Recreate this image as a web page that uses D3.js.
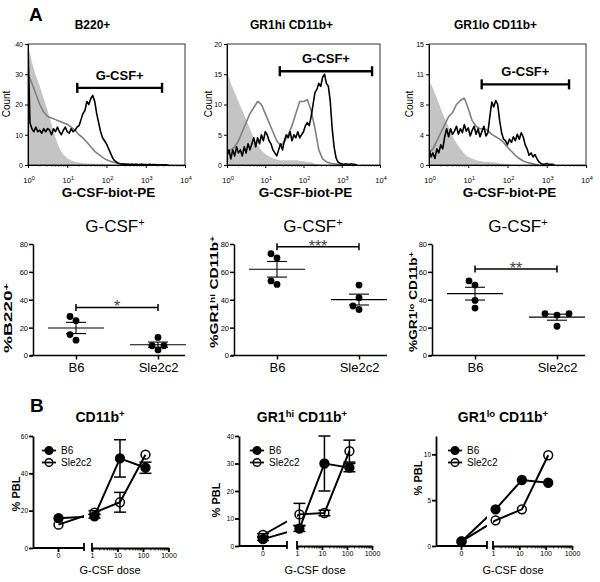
<!DOCTYPE html>
<html>
<head>
<meta charset="utf-8">
<script src="https://cdn.jsdelivr.net/npm/d3@7/dist/d3.min.js"></script>
<style>
html,body{margin:0;padding:0;background:#fff;}
svg{display:block;}
text{font-family:"Liberation Sans",Arial,Helvetica,sans-serif;fill:#000;}
</style>
</head>
<body>
<script>
// ================= DATA =================
// ---- Panel A, top row: histograms (count per bin on a log10 grid) ----
const histTitles = ["B220+", "GR1hi CD11b+", "GR1lo CD11b+"];
const histAxisTitle = "G-CSF-biot-PE";
const histYLabel = "Count";
const histYMax = [40, 20, 15];
const histYTicks = [[0, 10, 20, 30, 40], [0, 5, 10, 15, 20], [0, 3.75, 7.5, 11.25, 15]];
const histYTickLabels = [["0", "10", "20", "30", "40"], ["0", "5", "10", "15", "20"], ["0", "4", "8", "11", "15"]];
const histXTicks = [1, 10, 100, 1000, 10000];
const histXTickExp = ["0", "1", "2", "3", "4"];
const gateLabel = "G-CSF+";
const gateLow = [18, 24, 22];
const gateHigh = [2600, 6200, 3700];
const gateCount = [25.5, 15.5, 10];
const binCoarse = 0.1;   // decades per bin (isotype + gray curves)
const binFine = 0.05;    // decades per bin (black curves)

const b220Isotype = [40, 34, 29.5, 26, 22, 18, 13.5, 9, 5.5, 3.5, 2.2, 1.5, 1.1, 0.8, 0.6, 0.5, 0.4, 0.4, 0.3, 0.3, 0.2, 0.2, 0.1, 0];
const b220Gray = [30, 27, 23.5, 20, 17.5, 16, 15.5, 15, 14.5, 14, 13.5, 12.5, 11.5, 10, 9, 7.5, 6, 4.5, 3.5, 2.5, 1.7, 1.2, 0.8, 0.5, 0.4, 0.3, 0.3, 0.2, 0.2, 0.2, 0.2, 0.1, 0.2, 0.1, 0.1, 0.1, 0];
const b220Black = [40, 14, 12, 11, 12.5, 11, 11.5, 10.5, 12, 11, 12, 11.5, 10, 12, 11, 12.5, 11, 10, 11.5, 12.5, 11, 10.5, 12, 11, 11.5, 12.5, 13, 15, 17, 18, 21, 20, 22, 23, 21, 17, 14, 11, 9, 8, 7, 5.5, 4, 2.5, 1.5, 1, 0.6, 0.4, 0.3, 0.3, 0.2, 0.2, 0.1, 0.2, 0.1, 0.2, 0.1, 0.1, 0.2, 0.1, 0.1, 0.1, 0.2, 0.1, 0.1, 0.1, 0.1, 0.1, 0.1, 0.1, 0.1, 0];

const gr1hiIsotype = [15.5, 13.5, 12, 10.5, 9, 7.5, 6, 4.5, 3.3, 2.4, 1.8, 1.4, 1.1, 0.9, 0.8, 0.8, 0.8, 0.8, 0.8, 0.7, 0.6, 0.5, 0.4, 0.2, 0.1, 0];
const gr1hiGray = [2, 2.5, 3, 4, 5.5, 7, 8.5, 9.5, 10.5, 10, 8.5, 7, 5.5, 4, 3.2, 3.8, 5, 6.5, 8.5, 10.5, 10.5, 10.8, 9, 6, 2.5, 1, 0.5, 0.3, 0.2, 0.1, 0];
const gr1hiBlack = [1.5, 2.5, 1, 2.5, 1.5, 3, 2, 2.5, 1.5, 3, 2, 3.5, 2.5, 3.5, 4.5, 3, 4.5, 3.5, 5, 4, 5.5, 5, 4, 3.5, 2.5, 2, 1.5, 2.5, 3.5, 2.5, 4, 5, 4.5, 5.5, 4, 5, 4.5, 5.5, 4.5, 5, 5.5, 6.5, 7, 6.5, 8, 10, 12, 12.5, 13.5, 13, 14.5, 15, 13.5, 13, 10.5, 6, 3, 1.2, 0.5, 0.3, 0.2, 0.1, 0.2, 0.1, 0.1, 0.2, 0.1, 0.1, 0];

const gr1loIsotype = [10.5, 9.5, 8.3, 7, 5.8, 4.7, 3.6, 2.7, 2, 1.4, 1, 0.8, 0.6, 0.5, 0.4, 0.4, 0.3, 0.3, 0.2, 0.2, 0.1, 0];
const gr1loGray = [1.5, 2, 3, 4, 5, 6, 6.5, 7.5, 8, 8.3, 7, 5.5, 4.8, 4.5, 4.5, 4.3, 3.8, 3.5, 3.2, 2.8, 2.2, 1.7, 1.2, 0.8, 0.5, 0.3, 0.2, 0.1, 0];
const gr1loBlack = [2, 1, 1.5, 0.8, 2, 1.5, 2.5, 2, 3.5, 4.5, 3.5, 4.5, 3.8, 4.2, 4.8, 3.8, 4.5, 4, 5, 4.2, 4.6, 3.6, 4.3, 4.8, 3.8, 4.5, 3.5, 4.2, 4.8, 3.6, 4, 6, 7.8, 7.2, 8, 7.5, 5.5, 4, 3.2, 3, 2.5, 3.2, 2.8, 3.5, 3, 3.8, 3.2, 4, 3.5, 2.5, 2, 1.2, 1.5, 1, 1.3, 0.8, 0.4, 0.2, 0.1, 0.1, 0.2, 0.1, 0.1, 0.1, 0];

// ---- Panel A, middle row: % G-CSF+ per mouse ----
const scatterGroups = ["B6", "Sle2c2"];
const scatterTitle = ["G-CSF", "^+"];
const scatterYTicks = [0, 20, 40, 60, 80];
const b220B6 = [28, 25, 15, 11];
const b220Sle = [13, 7, 4, 7];
const gr1hiB6 = [73, 70, 53.5, 51];
const gr1hiSle = [50.5, 41.5, 35.5, 33];
const gr1loB6 = [53.5, 50.5, 39.5, 34];
const gr1loSle = [30, 29, 30, 21];
const sigLevel = [34.5, 78, 62];
const sigStars = ["*", "***", "**"];
const scatterYLabels = [["%B220", "^+"], ["%GR1", "^hi", " CD11b", "^+"], ["%GR1", "^lo", " CD11b", "^+"]];

// ---- Panel B: % PBL vs G-CSF dose ----
const doseTicks = [1, 10, 100, 1000];
const doses = [0, 1.25, 12.5, 125];
const lineTitles = [["CD11b", "^+"], ["GR1", "^hi", " CD11b", "^+"], ["GR1", "^lo", " CD11b", "^+"]];
const lineYMax = [60, 40, 12];
const lineYTicks = [[0, 20, 40, 60], [0, 10, 20, 30, 40], [0, 5, 10]];
const legendNames = ["B6", "Sle2c2"];
const cd11bB6 = [16, 17, 48, 43];
const cd11bB6Err = [0, 1, 10, 3];
const cd11bSle = [12.5, 19, 24.5, 50];
const cd11bSleErr = [0, 1, 5.3, 0];
const gr1hiPblB6 = [2.5, 6.3, 30, 28.5];
const gr1hiPblB6Err = [0.5, 1, 10, 1.5];
const gr1hiPblSle = [4, 11.5, 12, 34.5];
const gr1hiPblSleErr = [0.5, 4, 1, 4];
const gr1loPblB6 = [0.5, 4, 7.2, 6.9];
const gr1loPblB6Err = [0, 0, 0, 0];
const gr1loPblSle = [0.5, 2.8, 4, 9.9];
const gr1loPblSleErr = [0, 0, 0, 0];

// ================= DRAWING =================
const FONT = '"Liberation Sans", Arial, Helvetica, sans-serif';
const svg = d3.select("body").append("svg").attr("width", 600).attr("height", 582);
const defs = svg.append("defs");

function rich(sel, parts, supSize) {
  parts.forEach(p => {
    if (p.startsWith("^")) {
      sel.append("tspan").attr("baseline-shift", "super").attr("font-size", supSize).text(p.slice(1));
    } else {
      sel.append("tspan").text(p);
    }
  });
  return sel;
}
function styleAxis(sel, fs, sw) {
  sel.attr("font-family", FONT).attr("font-size", fs);
  sel.selectAll("path,line").attr("stroke", "#000").attr("stroke-width", sw);
  sel.selectAll("text").attr("fill", "#000");
}

// ---------- Panel letters ----------
svg.append("text").attr("x", 29).attr("y", 21).attr("font-size", 19).attr("font-weight", "bold").text("A");
svg.append("text").attr("x", 30).attr("y", 412).attr("font-size", 19).attr("font-weight", "bold").text("B");

// ---------- Top row: histograms ----------
const histLayout = [
  { x0: 28, x1: 185, countX: 10 },
  { x0: 227, x1: 380, countX: 212 },
  { x0: 429, x1: 586, countX: 413 }
];
const HB = 165, HT = 44;
const histIso = [b220Isotype, gr1hiIsotype, gr1loIsotype];
const histGray = [b220Gray, gr1hiGray, gr1loGray];
const histBlack = [b220Black, gr1hiBlack, gr1loBlack];

histLayout.forEach((L, i) => {
  const g = svg.append("g");
  const xs = d3.scaleLog().domain([1, 1e4]).range([L.x0, L.x1]);
  const ys = d3.scaleLinear().domain([0, histYMax[i]]).range([HB, HT]);
  const cid = "hclip" + i;
  defs.append("clipPath").attr("id", cid).append("rect")
    .attr("x", L.x0).attr("y", HT - 3).attr("width", L.x1 - L.x0).attr("height", HB - HT + 3);
  const pc = g.append("g").attr("clip-path", `url(#${cid})`);

  const areaC = d3.area().x((d, j) => xs(Math.pow(10, j * binCoarse))).y0(ys(0)).y1(d => ys(d));
  const lineC = d3.line().x((d, j) => xs(Math.pow(10, j * binCoarse))).y(d => ys(d));
  const lineF = d3.line().x((d, j) => xs(Math.pow(10, j * binFine))).y(d => ys(d));
  pc.append("path").datum(histIso[i]).attr("d", areaC).attr("fill", "#c4c4c4");
  pc.append("path").datum(histGray[i]).attr("d", lineC).attr("fill", "none")
    .attr("stroke", "#7f7f7f").attr("stroke-width", 1.6).attr("stroke-linejoin", "round");
  pc.append("path").datum(histBlack[i]).attr("d", lineF).attr("fill", "none")
    .attr("stroke", "#000").attr("stroke-width", 1.6).attr("stroke-linejoin", "round");

  // frame
  g.append("rect").attr("x", L.x0).attr("y", HT).attr("width", L.x1 - L.x0).attr("height", HB - HT)
    .attr("fill", "none").attr("stroke", "#000").attr("stroke-width", 0.8);

  // y axis
  const ya = d3.axisLeft(ys).tickValues(histYTicks[i]).tickFormat((d, j) => histYTickLabels[i][j])
    .tickSize(3).tickSizeOuter(0).tickPadding(2);
  const yg = g.append("g").attr("transform", `translate(${L.x0},0)`).call(ya);
  styleAxis(yg, 7, 1);

  // x axis
  const xa = d3.axisBottom(xs).tickValues(histXTicks).tickFormat("").tickSize(3).tickSizeOuter(0);
  const xg = g.append("g").attr("transform", `translate(0,${HB})`).call(xa);
  styleAxis(xg, 7, 1);
  for (let k = 0; k < 4; k++) {
    for (let m = 2; m <= 9; m++) {
      const v = m * Math.pow(10, k);
      g.append("line").attr("x1", xs(v)).attr("x2", xs(v)).attr("y1", HB).attr("y2", HB + 1.6)
        .attr("stroke", "#000").attr("stroke-width", 0.6);
    }
  }
  histXTicks.forEach((v, j) => {
    const t = g.append("text").attr("x", xs(v) + 1).attr("y", 183).attr("text-anchor", "middle")
      .attr("font-size", 7.5);
    rich(t, ["10", "^" + histXTickExp[j]], 5.5);
  });

  // gate
  const gy = ys(gateCount[i]);
  const gx1 = xs(gateLow[i]), gx2 = xs(gateHigh[i]);
  g.append("line").attr("x1", gx1).attr("x2", gx2).attr("y1", gy).attr("y2", gy)
    .attr("stroke", "#000").attr("stroke-width", 2.4);
  [gx1, gx2].forEach(x => g.append("line").attr("x1", x).attr("x2", x).attr("y1", gy - 5).attr("y2", gy + 5)
    .attr("stroke", "#000").attr("stroke-width", 2.4));
  g.append("text").attr("x", (gx1 + gx2) / 2).attr("y", gy - 8).attr("text-anchor", "middle")
    .attr("font-size", 13).attr("font-weight", "bold").text(gateLabel);

  // titles
  g.append("text").attr("x", (L.x0 + L.x1) / 2 - 14 + (i === 0 ? 0 : 2)).attr("y", 29).attr("text-anchor", "middle")
    .attr("font-size", 12).attr("font-weight", "bold").text(histTitles[i]);
  g.append("text").attr("x", (L.x0 + L.x1) / 2 + 2).attr("y", 197).attr("text-anchor", "middle")
    .attr("font-size", 13.5).attr("font-weight", "bold").text(histAxisTitle);
  g.append("text").attr("transform", `translate(${L.countX},${104}) rotate(-90)`).attr("text-anchor", "middle")
    .attr("font-size", 10).text(histYLabel);
});

// ---------- Middle row: scatter plots ----------
const scatLayout = [
  { ax: 33, xEnd: 185, titleX: 115, ylabX: 12, ylabY: 318, ylabLen: 70 },
  { ax: 234, xEnd: 387, titleX: 313, ylabX: 218, ylabY: 292, ylabLen: 112 },
  { ax: 432, xEnd: 585, titleX: 518, ylabX: 417, ylabY: 302, ylabLen: 100 }
];
const SB = 355.5, ST = 244;
const scatB6 = [b220B6, gr1hiB6, gr1loB6];
const scatSle = [b220Sle, gr1hiSle, gr1loSle];

function swarmOffsets(values, ys, r, step) {
  const order = values.map((v, i) => i).sort((a, b) => values[a] - values[b]);
  const placed = [], off = new Array(values.length).fill(0);
  const cands = [0, -1, 1, -2, 2, -3, 3];
  order.forEach(i => {
    const y = ys(values[i]);
    for (const c of cands) {
      const x = c * step;
      if (placed.every(p => Math.hypot(p.x - x, p.y - y) >= 2 * r)) { off[i] = x; placed.push({ x, y }); break; }
    }
  });
  return off;
}

scatLayout.forEach((L, i) => {
  const g = svg.append("g");
  const ys = d3.scaleLinear().domain([0, 80]).range([SB, ST]);
  const xs = d3.scalePoint().domain(scatterGroups).range([L.ax + 43, L.ax + 125]);

  // axes
  const ya = d3.axisLeft(ys).tickValues(scatterYTicks).tickSize(4).tickSizeOuter(0).tickPadding(1);
  const yg = g.append("g").attr("transform", `translate(${L.ax},0)`).call(ya);
  styleAxis(yg, 7.5, 1.5);
  const xa = d3.axisBottom(xs).tickSize(4).tickSizeOuter(0).tickPadding(3);
  const xg = g.append("g").attr("transform", `translate(0,${SB})`).call(xa);
  styleAxis(xg, 13, 1.5);
  xg.select(".domain").remove();
  g.append("line").attr("x1", L.ax - 3).attr("x2", L.xEnd).attr("y1", SB).attr("y2", SB)
    .attr("stroke", "#000").attr("stroke-width", 1.5);

  // groups
  [scatB6[i], scatSle[i]].forEach((vals, k) => {
    const cx = xs(scatterGroups[k]);
    const m = d3.mean(vals);
    const sem = d3.deviation(vals) / Math.sqrt(vals.length);
    const offs = swarmOffsets(vals, ys, 3.4, 6);
    g.selectAll(null).data(vals).enter().append("circle")
      .attr("cx", (d, j) => cx + offs[j]).attr("cy", d => ys(d)).attr("r", 3.4).attr("fill", "#000");
    g.append("line").attr("x1", cx - 28).attr("x2", cx + 28).attr("y1", ys(m)).attr("y2", ys(m))
      .attr("stroke", "#000").attr("stroke-width", 1.1);
    g.append("line").attr("x1", cx).attr("x2", cx).attr("y1", ys(m - sem)).attr("y2", ys(m + sem))
      .attr("stroke", "#000").attr("stroke-width", 1.1);
    [m - sem, m + sem].forEach(v => g.append("line").attr("x1", cx - 10).attr("x2", cx + 10)
      .attr("y1", ys(v)).attr("y2", ys(v)).attr("stroke", "#000").attr("stroke-width", 1.1));
  });

  // significance
  const sy = ys(sigLevel[i]);
  const sx1 = xs(scatterGroups[0]), sx2 = xs(scatterGroups[1]);
  g.append("line").attr("x1", sx1).attr("x2", sx2).attr("y1", sy).attr("y2", sy).attr("stroke", "#000").attr("stroke-width", 1.5);
  [sx1, sx2].forEach(x => g.append("line").attr("x1", x).attr("x2", x).attr("y1", sy - 3.5).attr("y2", sy + 3.5)
    .attr("stroke", "#000").attr("stroke-width", 1.5));
  g.append("text").attr("x", (sx1 + sx2) / 2).attr("y", sy + 5).attr("text-anchor", "middle")
    .attr("font-size", 16).style("fill", "#444").text(sigStars[i]);

  // title
  const t = g.append("text").attr("x", L.titleX).attr("y", 232).attr("text-anchor", "middle").attr("font-size", 17);
  rich(t, scatterTitle, 11);
  // y label
  const yl = g.append("text").attr("transform", `translate(${L.ylabX},${L.ylabY}) rotate(-90)`)
    .attr("text-anchor", "middle").attr("font-size", 10.5).attr("font-weight", "bold")
    .attr("textLength", L.ylabLen).attr("lengthAdjust", "spacingAndGlyphs");
  rich(yl, scatterYLabels[i], 7);
});

// ---------- Bottom row: dose response ----------
const lineLayout = [
  { ax: 33, seg1End: 84, seg2Start: 92, seg2End: 168.5, y0: 548, yTop: 436, titleX: 100, ylabX: 20, ylabY: 494, xlabX: 110, legX: 49 },
  { ax: 239, seg1End: 287, seg2Start: 297, seg2End: 372, y0: 546, yTop: 436, titleX: 302, ylabX: 220, ylabY: 500, xlabX: 315, legX: 257 },
  { ax: 436, seg1End: 487, seg2Start: 493, seg2End: 572, y0: 546, yTop: 436, titleX: 503, ylabX: 422, ylabY: 478, xlabX: 513, legX: 455 }
];
const lineB6 = [cd11bB6, gr1hiPblB6, gr1loPblB6];
const lineB6Err = [cd11bB6Err, gr1hiPblB6Err, gr1loPblB6Err];
const lineSle = [cd11bSle, gr1hiPblSle, gr1loPblSle];
const lineSleErr = [cd11bSleErr, gr1hiPblSleErr, gr1loPblSleErr];

lineLayout.forEach((L, i) => {
  const g = svg.append("g");
  const xz = d3.scaleLinear().domain([-1, 1]).range([L.ax, L.seg1End]);
  const xl = d3.scaleLog().domain([1, 1000]).range([L.seg2Start, L.seg2End]);
  const xp = d => d === 0 ? xz(0) : xl(d);
  const ys = d3.scaleLinear().domain([0, lineYMax[i]]).range([L.y0, L.yTop]);

  // y axis
  const ya = d3.axisLeft(ys).tickValues(lineYTicks[i]).tickSize(4).tickSizeOuter(0).tickPadding(1);
  const yg = g.append("g").attr("transform", `translate(${L.ax},0)`).call(ya);
  styleAxis(yg, 6.5, 1.8);

  // x axis segment 1 (zero)
  g.append("line").attr("x1", L.ax).attr("x2", L.seg1End).attr("y1", L.y0).attr("y2", L.y0)
    .attr("stroke", "#000").attr("stroke-width", 1.8);
  g.append("line").attr("x1", xz(0)).attr("x2", xz(0)).attr("y1", L.y0).attr("y2", L.y0 + 4)
    .attr("stroke", "#000").attr("stroke-width", 1.8);
  g.append("text").attr("x", xz(0)).attr("y", L.y0 + 10).attr("text-anchor", "middle").attr("font-size", 7).text("0");
  // segment 2 (log)
  const xa = d3.axisBottom(xl).tickValues(doseTicks).tickFormat(d3.format("d")).tickSize(4).tickSizeOuter(0).tickPadding(1);
  const xg = g.append("g").attr("transform", `translate(0,${L.y0})`).call(xa);
  styleAxis(xg, 7, 1.8);
  for (let k = 0; k < 3; k++) {
    for (let m = 2; m <= 9; m++) {
      const v = m * Math.pow(10, k);
      g.append("line").attr("x1", xl(v)).attr("x2", xl(v)).attr("y1", L.y0).attr("y2", L.y0 + 2.5)
        .attr("stroke", "#000").attr("stroke-width", 0.8);
    }
  }
  // break marks
  [L.seg1End, L.seg2Start].forEach(x => g.append("line").attr("x1", x).attr("x2", x)
    .attr("y1", L.y0 - 5).attr("y2", L.y0 + 3).attr("stroke", "#000").attr("stroke-width", 1.8));

  // clip for lines (gap at axis break)
  const cid = "lclip" + i;
  const cp = defs.append("clipPath").attr("id", cid);
  cp.append("rect").attr("x", L.ax - 10).attr("y", 380).attr("width", L.seg1End - L.ax + 10).attr("height", 180);
  cp.append("rect").attr("x", L.seg2Start).attr("y", 380).attr("width", 120).attr("height", 180);

  const series = [
    { v: lineSle[i], e: lineSleErr[i], filled: false },
    { v: lineB6[i], e: lineB6Err[i], filled: true }
  ];
  // error bars
  series.forEach(s => {
    s.v.forEach((v, j) => {
      if (s.e[j] <= 0) return;
      const x = xp(doses[j]);
      g.append("line").attr("x1", x).attr("x2", x).attr("y1", ys(v - s.e[j])).attr("y2", ys(v + s.e[j]))
        .attr("stroke", "#000").attr("stroke-width", 1.5);
      [v - s.e[j], v + s.e[j]].forEach(w => g.append("line").attr("x1", x - 6).attr("x2", x + 6)
        .attr("y1", ys(w)).attr("y2", ys(w)).attr("stroke", "#000").attr("stroke-width", 1.5));
    });
  });
  // lines
  const ln = d3.line().x((d, j) => xp(doses[j])).y(d => ys(d));
  series.forEach(s => {
    g.append("path").datum(s.v).attr("d", ln).attr("clip-path", `url(#${cid})`)
      .attr("fill", "none").attr("stroke", "#000").attr("stroke-width", 2);
  });
  // markers
  series.forEach(s => {
    g.selectAll(null).data(s.v).enter().append("circle")
      .attr("cx", (d, j) => xp(doses[j])).attr("cy", d => ys(d)).attr("r", 4.4)
      .attr("fill", s.filled ? "#000" : "none").attr("stroke", "#000").attr("stroke-width", 1.5);
  });

  // legend
  [[legendNames[0], true, 450.5], [legendNames[1], false, 462.5]].forEach(([name, filled, y]) => {
    g.append("circle").attr("cx", L.legX).attr("cy", y).attr("r", 3.8)
      .attr("fill", filled ? "#000" : "none").attr("stroke", "#000").attr("stroke-width", 1.4);
    g.append("line").attr("x1", L.legX - 7).attr("x2", L.legX + 7).attr("y1", y).attr("y2", y)
      .attr("stroke", "#000").attr("stroke-width", 1.8);
    g.append("text").attr("x", L.legX + 12).attr("y", y + 3.6).attr("font-size", 10).text(name);
  });

  // titles & labels
  const t = g.append("text").attr("x", L.titleX).attr("y", 422).attr("text-anchor", "middle")
    .attr("font-size", 14).attr("font-weight", "bold");
  rich(t, lineTitles[i], 9.5);
  g.append("text").attr("transform", `translate(${L.ylabX},${L.ylabY}) rotate(-90)`).attr("text-anchor", "middle")
    .attr("font-size", 11).attr("font-weight", "bold").text("% PBL");
  g.append("text").attr("x", L.xlabX).attr("y", 574).attr("text-anchor", "middle").attr("font-size", 11).text("G-CSF dose");
});
</script>
</body>
</html>
